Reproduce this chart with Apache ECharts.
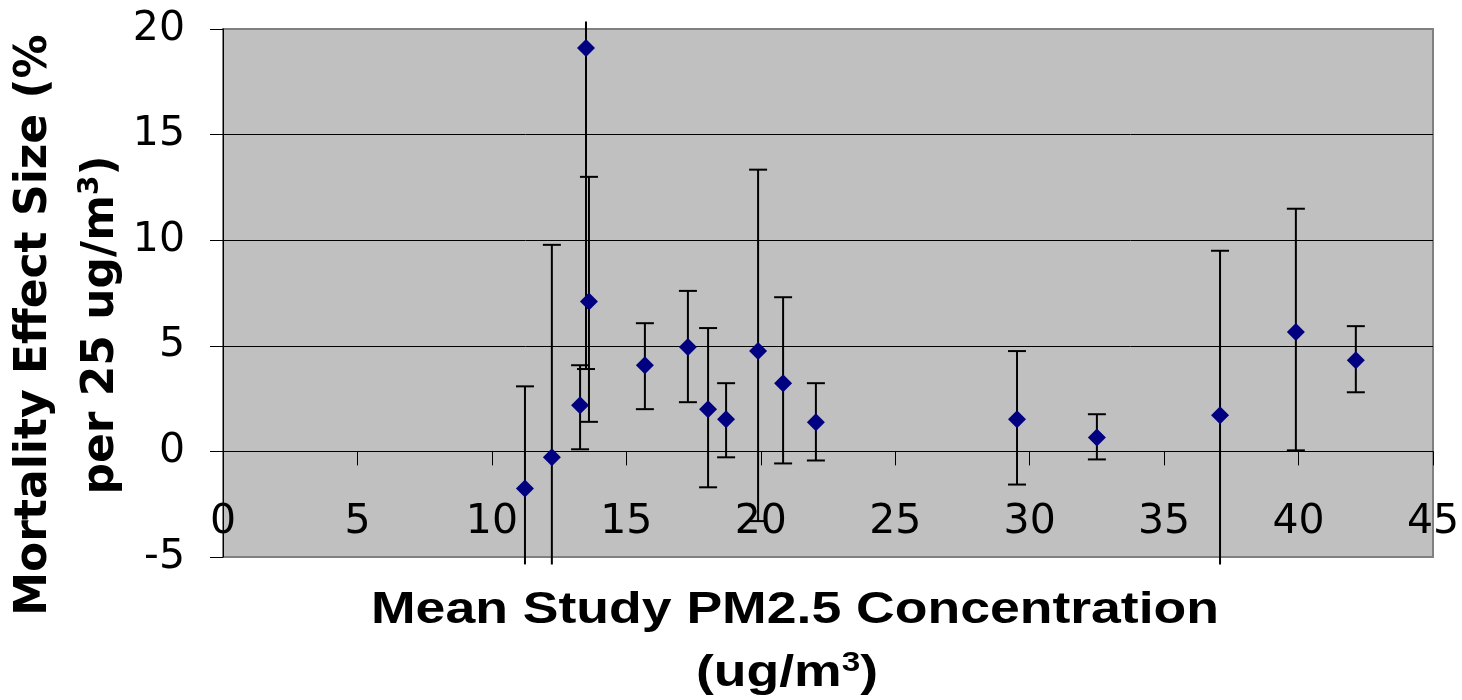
<!DOCTYPE html>
<html>
<head>
<meta charset="utf-8">
<script src="https://cdn.jsdelivr.net/npm/echarts@6/dist/echarts.min.js"></script>
<style>html,body{margin:0;padding:0;background:#fff}#c{width:1462px;height:700px}</style>
</head>
<body>
<div id="c"></div>
<script>
// Mean study PM2.5 concentration (ug/m3)
var concentrations = [11.23, 12.23, 13.28, 13.5, 13.61, 15.69, 17.29, 18.04, 18.71, 19.9, 20.83, 22.05, 29.53, 32.5, 37.08, 39.9, 42.13];
// Mortality effect size (% per 25 ug/m3)
var effects = [-1.76, -0.28, 2.18, 19.1, 7.1, 4.08, 4.94, 2.0, 1.52, 4.75, 3.23, 1.38, 1.52, 0.66, 1.71, 5.65, 4.32];
// Error bar lower / upper ends (as visible)
var lowerCI = [-5.35, -5.35, 0.1, 3.9, 1.4, 2.0, 2.33, -1.7, -0.28, -3.3, -0.57, -0.43, -1.57, -0.38, -5.35, 0.05, 2.8];
var upperCI = [3.08, 9.78, 4.08, 20.35, 13.0, 6.07, 7.6, 5.84, 3.23, 13.34, 7.3, 3.23, 4.75, 1.76, 9.5, 11.49, 5.93];
var xTicks = {min: 0, max: 45, interval: 5};
var yTicks = {min: -5, max: 20, interval: 5};
var yTitle = ['Mortality Effect Size (%', 'per 25 ug/m{s|3})'];
var xTitle = ['Mean Study PM2.5 Concentration', '(ug/m{s|3})'];

var points = concentrations.map(function (x, i) { return [x, effects[i]]; });
var bars = concentrations.map(function (x, i) { return [x, effects[i], lowerCI[i], upperCI[i]]; });

var chart = echarts.init(document.getElementById('c'));
var CAP = 9;
chart.setOption({
  animation: false,
  grid: {
    left: 223, top: 29, right: 29, bottom: 143,
    show: true, backgroundColor: '#C0C0C0', borderColor: '#808080', borderWidth: 2,
    outerBoundsMode: 'none'
  },
  xAxis: {
    type: 'value', min: xTicks.min, max: xTicks.max, interval: xTicks.interval,
    axisLine: {show: true, onZero: true, lineStyle: {color: '#000', width: 1}},
    axisTick: {show: true, inside: false, length: 14, lineStyle: {color: '#000', width: 1}},
    axisLabel: {margin: -55, color: '#000', fontFamily: 'DejaVu Sans', fontSize: 41, showMinLabel: true, showMaxLabel: true},
    splitLine: {show: false}
  },
  yAxis: {
    type: 'value', min: yTicks.min, max: yTicks.max, interval: yTicks.interval,
    axisLine: {show: true, onZero: false, lineStyle: {color: '#000', width: 1}},
    axisTick: {show: true, inside: false, length: 13, lineStyle: {color: '#000', width: 1}},
    axisLabel: {margin: 38, color: '#000', fontFamily: 'DejaVu Sans', fontSize: 41},
    splitLine: {show: true, lineStyle: {color: ['#808080', '#000', '#000', '#000', '#000', '#808080'], width: 1}}
  },
  series: [
    {
      type: 'custom',
      clip: false,
      z: 2,
      data: bars,
      renderItem: function (params, api) {
        var x = api.value(0), lo = api.value(2), hi = api.value(3);
        var pLo = api.coord([x, lo]);
        var pHi = api.coord([x, hi]);
        var st = {stroke: '#000', lineWidth: 2};
        var children = [{type: 'line', shape: {x1: pLo[0], y1: pLo[1], x2: pHi[0], y2: pHi[1]}, style: st}];
        if (lo >= yTicks.min) children.push({type: 'line', shape: {x1: pLo[0] - CAP, y1: pLo[1], x2: pLo[0] + CAP, y2: pLo[1]}, style: st});
        if (hi <= yTicks.max) children.push({type: 'line', shape: {x1: pHi[0] - CAP, y1: pHi[1], x2: pHi[0] + CAP, y2: pHi[1]}, style: st});
        return {type: 'group', children: children};
      }
    },
    {
      type: 'scatter',
      z: 3,
      symbol: 'diamond',
      symbolSize: [18, 18],
      itemStyle: {color: '#000080', opacity: 1},
      data: points
    }
  ],
  graphic: [
    {type: 'text', x: 35, y: 325, rotation: Math.PI / 2,
     style: {text: yTitle[0], fontFamily: 'DejaVu Sans', fontWeight: 'bold', fontSize: 44, fill: '#000', textAlign: 'center', textVerticalAlign: 'middle'}},
    {type: 'text', x: 102, y: 325, rotation: Math.PI / 2,
     style: {text: yTitle[1], fontFamily: 'DejaVu Sans', fontWeight: 'bold', fontSize: 44, lineHeight: 50, fill: '#000', textAlign: 'center', textVerticalAlign: 'middle',
       rich: {s: {fontFamily: 'DejaVu Sans', fontWeight: 'bold', fontSize: 28, lineHeight: 50, verticalAlign: 'top', fill: '#000'}}}},
    {type: 'text', x: 795, y: 611, scaleX: 1.19,
     style: {text: xTitle[0], fontFamily: 'Liberation Sans', fontWeight: 'bold', fontSize: 45, fill: '#000', textAlign: 'center', textVerticalAlign: 'middle'}},
    {type: 'text', x: 787, y: 674, scaleX: 1.19,
     style: {text: xTitle[1], fontFamily: 'Liberation Sans', fontWeight: 'bold', fontSize: 45, lineHeight: 50, fill: '#000', textAlign: 'center', textVerticalAlign: 'middle',
       rich: {s: {fontFamily: 'Liberation Sans', fontWeight: 'bold', fontSize: 28, lineHeight: 50, verticalAlign: 'top', fill: '#000'}}}}
  ]
});
</script>
</body>
</html>
